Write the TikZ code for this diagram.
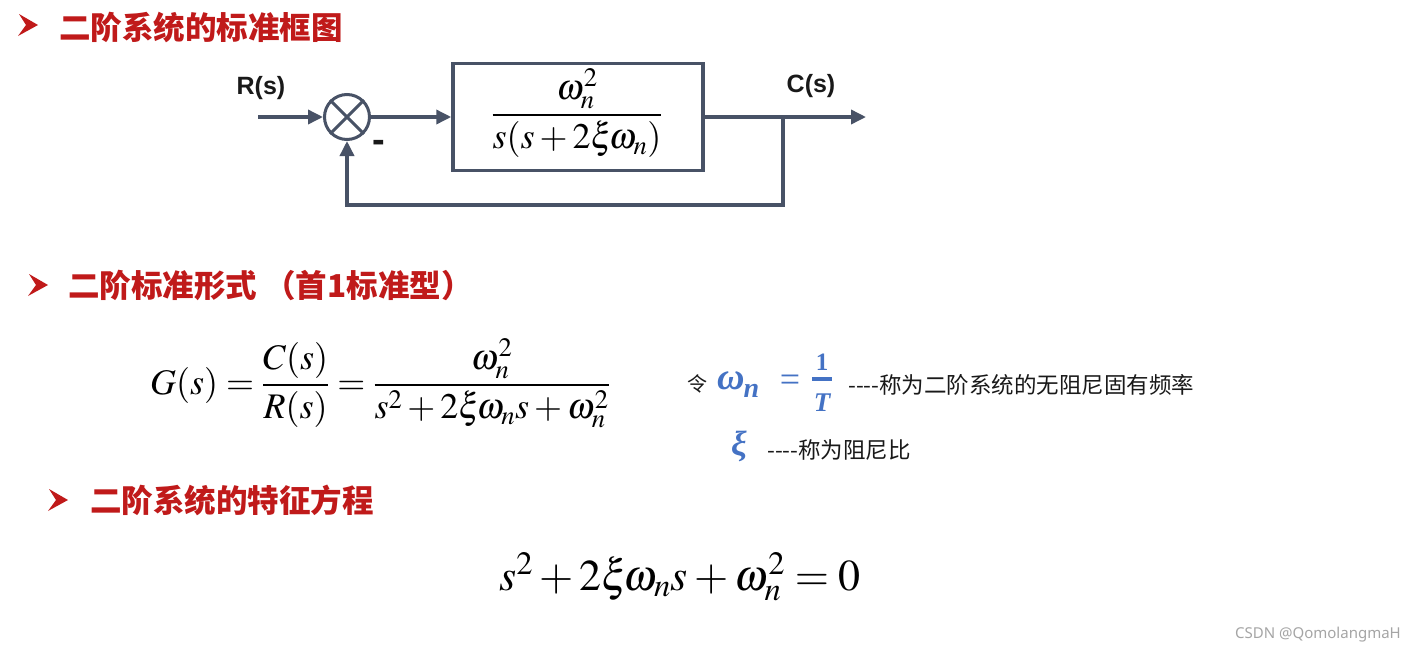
\documentclass[tikz,border=0pt]{standalone}
\usepackage{mathptmx}
\usepackage[no-math]{fontspec}
\newfontfamily\cjk{Noto Sans CJK SC}
\newfontfamily\lserif{Liberation Serif}
\newfontfamily\lsans{Liberation Sans}
\newfontfamily\nsans{Noto Sans}
\usetikzlibrary{arrows.meta}
\definecolor{tred}{RGB}{192,26,26}
\definecolor{lgray}{RGB}{72,82,102}
\definecolor{eqblue}{RGB}{68,114,196}
\definecolor{wm}{RGB}{165,165,165}
\definecolor{ink}{RGB}{25,25,25}
\begin{document}
\begin{tikzpicture}[x=1pt,y=-1pt,
  title/.style={anchor=west,inner sep=0pt,text=tred,font=\cjk\bfseries\fontsize{31.5}{36}\selectfont},
  mybullet/.pic={\fill[tred] (0,0) -- (19,11) -- (-1,22) -- (7,11) -- cycle;},
  wire/.style={draw=lgray,line width=3.5pt},
  sig/.style={wire,-{Triangle[length=15pt,width=14pt]}},
  sumc/.style={circle,draw=lgray,line width=3pt,minimum size=45pt,inner sep=0pt},
  blk/.style={draw=lgray,line width=3.5pt,minimum width=250pt,minimum height=107pt,inner sep=0pt},
  siglabel/.style={inner sep=0pt,text=ink,font=\lsans\bfseries\fontsize{25}{28}\selectfont},
  eq/.style={inner sep=0pt,anchor=base,text=black,font=\fontsize{36}{42}\selectfont},
  bigeq/.style={inner sep=0pt,anchor=base,text=black,font=\fontsize{44}{50}\selectfont},
  note/.style={inner sep=0pt,anchor=west,text=ink,font=\cjk\fontsize{22.5}{26}\selectfont},
  blue/.style={inner sep=0pt,anchor=base,text=eqblue},
]
\useasboundingbox (0,0) rectangle (1415,654);
\fill[white] (0,0) rectangle (1415,654);

% titles
\pic at (19,14) {mybullet};
\node[title] (t1) at (59,27) {二阶系统的标准框图};
\pic at (29,274) {mybullet};
\node[title] (t2) at (68,285) {二阶标准形式 （首1标准型）};
\pic at (49,489) {mybullet};
\node[title] (t3) at (90,500) {二阶系统的特征方程};

% block diagram
\coordinate (in) at (258,117);
\node[sumc] (sum) at (347,117) {};
\draw[wire,line width=3pt] (sum.north east) -- (sum.south west);
\draw[wire,line width=3pt] (sum.north west) -- (sum.south east);
\node[blk] (g) at (578,117) {};
\node[eq] (gf) at (577,124) {$\displaystyle\frac{\omega_n^2}{s(s+2\xi\!\omega_n)}$};
\coordinate (br) at (783,117);
\coordinate (fb) at (783,205);
\coordinate (out) at (866,117);
\draw[sig] (in) -- (sum.west);
\draw[sig] (sum.east) -- (g.west);
\draw[sig] (g.east) -- (out);
\draw[sig] (br) -- (fb) -| (sum.south);
\node[siglabel] (r) at (261,88) {R(s)};
\node[siglabel] (c) at (811,86) {C(s)};
\node[inner sep=0pt,text=ink,font=\lsans\bfseries\fontsize{38}{38}\selectfont] (minus) at (379,146) {-};

% standard form
\node[eq] (geq) at (380,394) {$\displaystyle G(s)=\frac{C(s)}{R(s)}=\frac{\omega_n^2}{s^2+2\xi\!\omega_n s+\omega_n^2}$};

\node[inner sep=0pt,anchor=west,text=ink,font=\cjk\fontsize{20}{24}\selectfont] (ling) at (687,384) {令};
\node[blue,anchor=base west,font=\lserif\bfseries\itshape\fontsize{38}{40}\selectfont] (wn) at (717,389) {ω\kern-1pt\raisebox{-8pt}{\fontsize{28}{30}\selectfont n}};
\node[blue,font=\lserif\fontsize{36}{40}\selectfont] (eqs) at (790,391) {=};
\node[blue,font=\lserif\bfseries\fontsize{25}{30}\selectfont] (one) at (822,370) {1};
\node[blue,font=\lserif\bfseries\itshape\fontsize{27}{30}\selectfont] (tt) at (822,411) {T};
\draw[eqblue,line width=3.5pt] (812,379) -- (832,379);
\node[note] (n1) at (848,385) {----称为二阶系统的无阻尼固有频率};
\node[blue,anchor=base west,font=\lserif\bfseries\itshape\fontsize{35}{40}\selectfont] (xi) at (731,455) {ξ};
\node[note] (n2) at (767,450) {----称为阻尼比};

% characteristic equation
\node[bigeq] (ce) at (680,590) {$s^2+2\xi\!\omega_n s+\omega_n^2=0$};

% watermark
\node[inner sep=0pt,anchor=east,text=wm,font=\nsans\fontsize{15}{18}\selectfont] (w) at (1401,635) {CSDN @QomolangmaH};
\end{tikzpicture}
\end{document}
